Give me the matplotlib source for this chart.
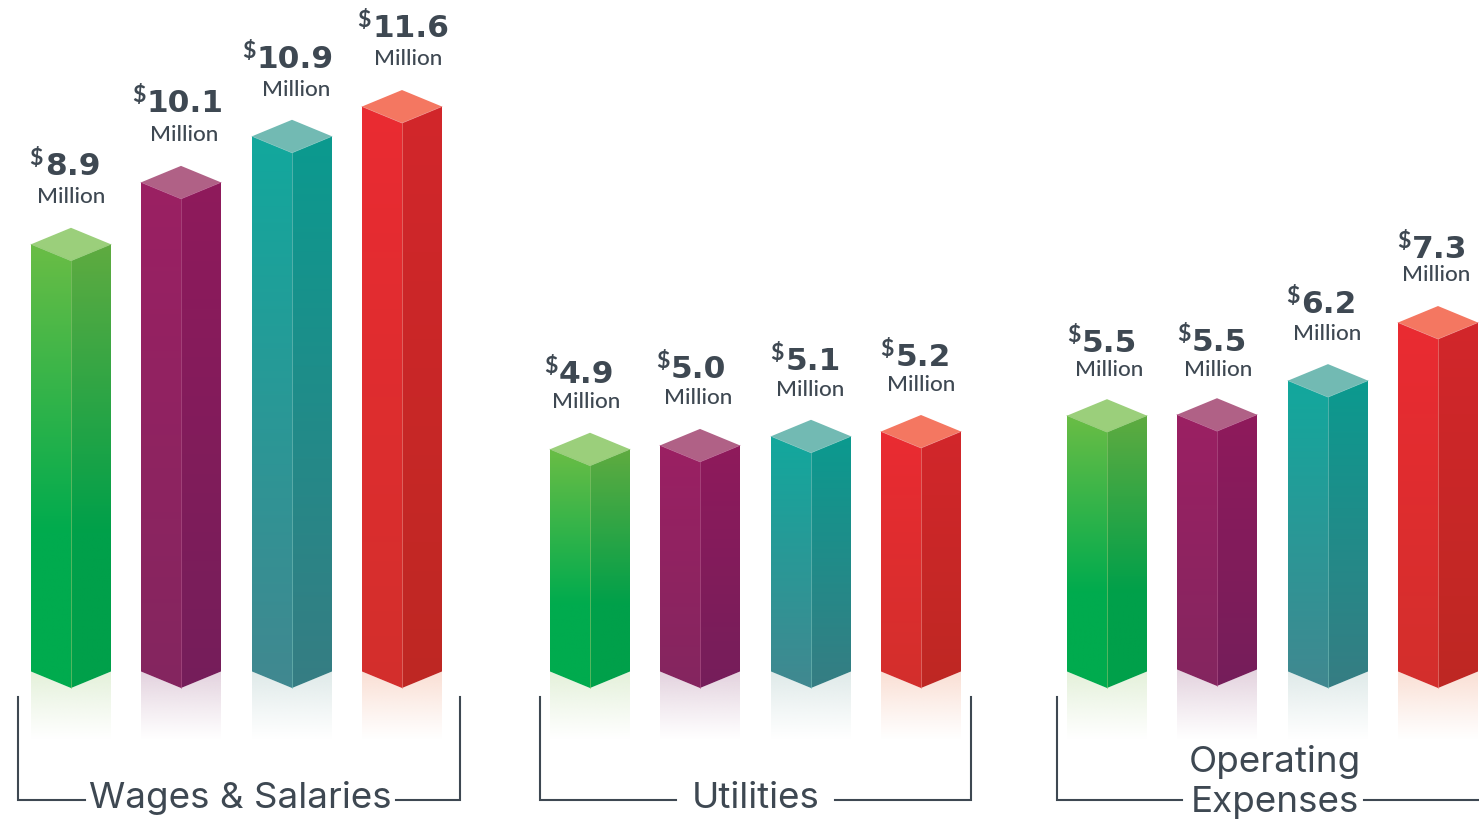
import numpy as np
import matplotlib
matplotlib.use("Agg")
import matplotlib.pyplot as plt
from matplotlib.colors import to_rgb
from matplotlib.patches import Polygon

# ---- data ----
categories = ["Wages & Salaries", "Utilities", "Operating\nExpenses"]
wages_labels = ["8.9", "10.1", "10.9", "11.6"]
utilities_labels = ["4.9", "5.0", "5.1", "5.2"]
operating_labels = ["5.5", "5.5", "6.2", "7.3"]
# drawn heights of the bars (the picture is not strictly proportional to its labels)
wages_heights = [8.90, 10.19, 11.15, 11.77]
utilities_heights = [4.63, 4.71, 4.90, 5.00]
operating_heights = [5.33, 5.35, 6.06, 7.27]

# ---- layout (pixels) ----
W, H = 1479, 822
PX = 48.0
BASE = 671.5
bar_lefts = [31, 141, 252, 362, 550, 660, 771, 881, 1067, 1177, 1288, 1398]
base_shift = [0, 0, 0, 0, 0, 0, 0, 0, 0, -2, 0, 0]
num_lefts = [45, 147, 257, 372, 559, 671, 786, 896, 1082, 1192, 1301, 1412]
dollar_lefts = [29, 132, 242, 357, 544, 656, 770, 880, 1067, 1177, 1286, 1397]
mil_centers = [71.5, 184, 296, 408, 586, 698, 810, 921.5, 1109, 1218, 1327, 1436.5]
num_raise = [69, 70, 68, 70, 66, 67, 66, 66, 64, 64, 68, 65]
mil_raise = [47.5, 47.5, 46.5, 47.5, 47.5, 47.5, 46.5, 46.5, 45.5, 44.5, 46.5, 47.5]
half = 40
depth = 16.5
ink = "#3E4852"

# colour sets: front top/bottom, side top/bottom, cap, reflection
styles = [
    dict(f=("#6ABD45", "#00AB4E"), s=("#5FAB40", "#00A04A"), c="#9BCF7B", r="#E4F1DA", stop=0.65, line="#8CC76F"),
    dict(f=("#9B2063", "#84265F"), s=("#8F1A5C", "#751E5A"), c="#B06186", r="#E3D2DE", stop=1.0, line="#B65A8C"),
    dict(f=("#12A89D", "#418890"), s=("#0B9A8F", "#367D83"), c="#72BAB3", r="#DFEAE9", stop=1.0, line="#7CC4BE"),
    dict(f=("#EA2B32", "#D32F2C"), s=("#D2262B", "#BE2823"), c="#F47761", r="#FADFD4", stop=1.0, line="#EE8A85"),
]

plt.rcParams["font.family"] = ["Lato", "DejaVu Sans"]
fig = plt.figure(figsize=(W / 100, H / 100), dpi=100)
ax = fig.add_axes([0, 0, 1, 1])
ax.set_axis_off()


def Y(py):
    return (BASE - py) / PX


def grad(top, bottom, stop, n=256):
    t = np.clip(np.linspace(0, 1, n) / stop, 0, 1)[:, None]
    a, b = np.array(to_rgb(top)), np.array(to_rgb(bottom))
    return (a * (1 - t) + b * t)[:, None, :]


def face(pts, img, extent):
    im = ax.imshow(img, extent=extent, aspect="auto", interpolation="bilinear", zorder=2, origin="upper")
    poly = Polygon(pts, closed=True, transform=ax.transData, fc="none", ec="none")
    ax.add_patch(poly)
    im.set_clip_path(poly)


def reflection(pts, colour, extent, strength):
    n = 256
    rgba = np.ones((n, 1, 4))
    rgba[..., :3] = to_rgb(colour)
    rgba[:, 0, 3] = strength * np.linspace(1, 0, n) ** 1.1
    im = ax.imshow(rgba, extent=extent, aspect="auto", interpolation="bilinear", zorder=1, origin="upper")
    poly = Polygon(pts, closed=True, transform=ax.transData, fc="none", ec="none")
    ax.add_patch(poly)
    im.set_clip_path(poly)


all_labels = wages_labels + utilities_labels + operating_labels
all_heights = wages_heights + utilities_heights + operating_heights
d = depth / PX

for i, (lab, h) in enumerate(zip(all_labels, all_heights)):
    st = styles[i % 4]
    x0, xm, x1 = bar_lefts[i], bar_lefts[i] + half, bar_lefts[i] + 2 * half
    b0 = -base_shift[i] / PX
    top = h
    # reflections
    ry = Y(740)
    reflection([(x0, b0), (xm, b0 - d), (xm, ry), (x0, ry)], st["r"], (x0, xm, ry, b0), 1.0)
    reflection([(xm, b0 - d), (x1, b0), (x1, ry), (xm, ry)], st["r"], (xm, x1, ry, b0), 1.0)
    # faces
    face([(x0, top), (xm, top - d), (xm, b0 - d), (x0, b0)],
         grad(st["f"][0], st["f"][1], st["stop"]), (x0, xm, b0 - d, top))
    face([(xm, top - d), (x1, top), (x1, b0), (xm, b0 - d)],
         grad(st["s"][0], st["s"][1], st["stop"]), (xm, x1, b0 - d, top))
    ax.add_patch(Polygon([(x0, top), (xm, top + d), (x1, top), (xm, top - d)], closed=True,
                         fc=st["c"], ec="none", zorder=3))
    # seam highlights
    ax.plot([xm, xm], [b0 - d, top - d], color=st["line"], lw=0.6, alpha=0.7, zorder=4)
    ax.plot([x0, xm, x1], [top, top - d, top], color=st["line"], lw=0.6, alpha=0.7, zorder=4)
    # labels
    ax.text(mil_centers[i], h + mil_raise[i] / PX, "Million", ha="center", va="center", fontsize=16.2,
            fontweight="medium", color=ink, zorder=5)
    ax.text(num_lefts[i], h + num_raise[i] / PX, lab, ha="left", va="baseline", fontsize=22.5,
            fontfamily=["DejaVu Sans"], fontweight="bold", color=ink, zorder=5)
    ax.text(dollar_lefts[i], h + (num_raise[i] + 10) / PX, "$", ha="left", va="baseline", fontsize=16.5,
            fontweight="bold", color=ink, zorder=5)

# brackets
bracket_xs = [(18, 85, 396, 460), (540, 676, 835, 971), (1057, 1182, 1364, 1490)]
text_pos = [(240, 798), (756, 798), (1275, 782)]
by0, by1 = Y(697), Y(799.5)
for name, (a, b, c, e), (tx, ty) in zip(categories, bracket_xs, text_pos):
    ax.plot([a, a, b], [by0, by1, by1], color=ink, lw=1.5, zorder=2, solid_joinstyle="miter")
    ax.plot([c, e, e], [by1, by1, by0], color=ink, lw=1.5, zorder=2, solid_joinstyle="miter")
    ax.text(tx, Y(ty), name, ha="center", va="center", fontsize=26.5, fontfamily=["Inter", "DejaVu Sans"],
            color=ink, linespacing=1.3, zorder=5)

ax.set_xlim(0, W)
ax.set_ylim(Y(H), Y(0))
fig.savefig("out.png", dpi=100, facecolor="white")
